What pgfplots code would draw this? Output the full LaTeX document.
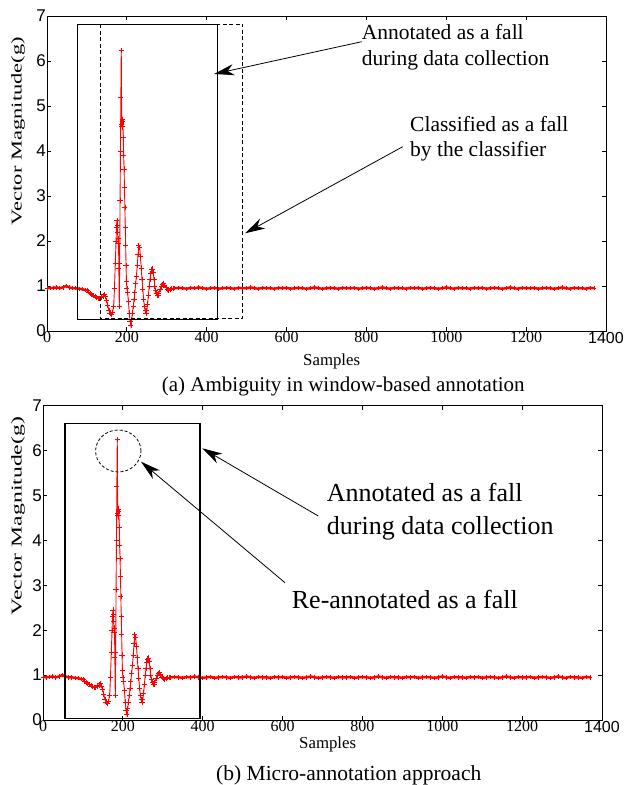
\documentclass[border=0pt]{standalone}
\usepackage{fontspec}
\setmainfont{Liberation Serif}
\newfontfamily\arialf{Liberation Sans}
\usepackage{pgfplots}
\pgfplotsset{compat=1.18}
\usepackage{pgfplotstable}
\usetikzlibrary{arrows.meta}

\definecolor{sigred}{RGB}{255,0,0}

% quiet stretch before the fall
\pgfplotstableread{
x y
0 0.96
8 0.95
16 0.96
24 0.97
32 0.95
40 0.97
48 1.00
56 0.97
64 0.95
72 0.95
80 0.94
88 0.93
96 0.91
100 0.90
}\headbase

% the fall event itself
\pgfplotstableread{
x y
100 0.90
104 0.87
108 0.84
112 0.82
116 0.79
120 0.76
124 0.74
128 0.72
132 0.72
136 0.74
140 0.78
143 0.81
146 0.76
149 0.68
152 0.58
155 0.46
158 0.40
161 0.37
164 0.42
167 0.55
169 0.95
171 1.50
173 2.00
174 2.30
175 2.45
176 2.35
177 2.20
178 1.95
179 2.05
180 1.40
181 0.55
182 1.50
183 2.90
184 4.00
185 5.20
186 6.24
187 4.60
188 4.55
189 4.70
190 4.65
191 4.30
192 3.90
193 3.60
194 3.20
195 2.75
196 2.30
197 1.90
198 1.45
199 1.10
200 0.95
202 0.85
204 0.65
206 0.40
208 0.22
210 0.12
212 0.25
214 0.40
216 0.54
218 0.70
220 0.85
222 1.05
224 1.22
226 1.45
228 1.70
230 1.90
232 1.85
234 1.65
236 1.40
238 1.15
240 0.92
242 0.70
244 0.55
246 0.45
248 0.40
250 0.45
252 0.60
254 0.80
256 1.00
258 1.15
260 1.28
262 1.36
264 1.38
266 1.30
268 1.15
270 1.00
272 0.90
274 0.84
276 0.80
278 0.80
280 0.84
283 0.92
286 1.00
289 1.04
292 1.06
295 1.02
298 0.96
301 0.92
304 0.91
308 0.93
312 0.94
316 0.95
}\event

% after the fall
\pgfplotstableread{
x y
316 0.95
320 0.95
330 0.96
340 0.95
350 0.94
360 0.96
370 0.95
380 0.97
390 0.95
400 0.94
410 0.95
420 0.96
430 0.94
440 0.95
450 0.96
460 0.95
470 0.94
480 0.96
490 0.95
500 0.95
510 0.97
520 0.95
530 0.94
540 0.96
550 0.95
560 0.95
570 0.94
580 0.96
590 0.95
600 0.96
610 0.94
620 0.95
630 0.96
640 0.95
650 0.94
660 0.95
670 0.97
680 0.95
690 0.94
700 0.95
710 0.96
720 0.95
730 0.94
740 0.96
750 0.95
760 0.95
770 0.96
780 0.94
790 0.95
800 0.96
810 0.95
820 0.94
830 0.95
840 0.97
850 0.95
860 0.94
870 0.96
880 0.95
890 0.95
900 0.94
910 0.96
920 0.95
930 0.96
940 0.94
950 0.95
960 0.96
970 0.95
980 0.94
990 0.95
1000 0.97
1010 0.95
1020 0.94
1030 0.96
1040 0.95
1050 0.95
1060 0.94
1070 0.96
1080 0.95
1090 0.96
1100 0.94
1110 0.95
1120 0.96
1130 0.95
1140 0.94
1150 0.95
1160 0.97
1170 0.95
1180 0.94
1190 0.96
1200 0.95
1210 0.95
1220 0.96
1230 0.94
1240 0.95
1250 0.96
1260 0.95
1270 0.94
1280 0.95
1290 0.97
1300 0.95
1310 0.94
1320 0.96
1330 0.95
1340 0.95
1350 0.94
1360 0.96
1370 0.95
}\tailbase

\pgfplotsset{panel/.style={
  scale only axis, width=559pt, height=315pt,
  xmin=0, xmax=1400, ymin=0, ymax=7,
  xtick={0,200,...,1400}, ytick={0,...,7},
  xticklabels={0,200,400,600,800,1000,1200,{\arialf 1400}},
  tick align=inside, major tick length=4pt,
  axis line style={line width=1pt},
  tick style={line width=0.8pt,black},
  xticklabel style={font=\fontsize{16}{16}\selectfont, inner sep=1pt},
  yticklabel style={font=\arialf\fontsize{17}{17}\selectfont, inner sep=1pt},
  /pgf/number format/assume math mode=true,
  clip=false,
}}

\tikzset{
  thickband/.style={draw=sigred, color=sigred, line width=2.4pt, mark=+, mark size=2.2pt,
    mark options={draw=sigred, solid, line width=0.6pt}},
  thinsig/.style={draw=sigred, color=sigred, line width=0.9pt, mark=+, mark size=2.6pt,
    mark options={draw=sigred, solid, line width=0.7pt}},
  callout/.style={line width=0.8pt, -{Stealth[length=20pt,width=11pt,inset=6pt]}},
}

\begin{document}
\begin{tikzpicture}
\useasboundingbox (0,0) rectangle (632pt,-785pt);

% ---------------- panel (a) ----------------
\begin{axis}[panel, at={(47pt,-331pt)}, anchor=south west]
  \addplot[thickband] table {\headbase};
  \addplot[thinsig] table {\event};
  \addplot[thickband] table {\tailbase};
\end{axis}

\node[rotate=90] at (18pt,-131pt)
  {\scalebox{1.5}[1]{\fontsize{15}{15}\selectfont Vector Magnitude(g)}};
\node[anchor=base west, inner sep=0, font=\fontsize{16.8}{16.8}\selectfont]
  at (303pt,-365pt) {Samples};
\node[anchor=base west, inner sep=0, font=\fontsize{21}{21}\selectfont]
  at (161.7pt,-391.7pt) {(a) Ambiguity in window-based annotation};

\draw[line width=0.9pt] (77.7pt,-24pt) rectangle (217pt,-319pt);
\draw[line width=0.9pt, dash pattern=on 4pt off 2.5pt] (100pt,-24pt) rectangle (242.7pt,-318.3pt);
\draw[callout] (361.7pt,-41.7pt) -- (214pt,-74pt);
\draw[callout] (402.7pt,-146.7pt) -- (245pt,-233.3pt);

\begin{scope}[every node/.style={anchor=base west, inner sep=0, font=\fontsize{21.5}{21.5}\selectfont}]
  \node at (361.7pt,-39.3pt) {Annotated as a fall};
  \node at (361.7pt,-65pt) {during data collection};
  \node at (410pt,-131pt) {Classified as a fall};
  \node at (410pt,-156.7pt) {by the classifier};
\end{scope}

% ---------------- panel (b) ----------------
\begin{axis}[panel, at={(43pt,-720pt)}, anchor=south west, height=314.3pt]
  \addplot[thickband] table {\headbase};
  \addplot[thinsig] table {\event};
  \addplot[thickband] table {\tailbase};
\end{axis}

\node[rotate=90] at (18pt,-516pt)
  {\scalebox{1.58}[1]{\fontsize{15}{15}\selectfont Vector Magnitude(g)}};
\node[anchor=base west, inner sep=0, font=\fontsize{16.8}{16.8}\selectfont]
  at (299pt,-748pt) {Samples};
\node[anchor=base west, inner sep=0, font=\fontsize{21.5}{21.5}\selectfont]
  at (216pt,-780pt) {(b) Micro-annotation approach};

\draw[line width=1.5pt] (65pt,-423.3pt) rectangle (200pt,-718.3pt);
\draw[line width=0.8pt, dash pattern=on 3pt off 2pt] (118.3pt,-451pt) ellipse [x radius=22.7pt, y radius=21pt];
\draw[callout] (318.3pt,-516pt) -- (202.3pt,-448.3pt);
\draw[callout] (285pt,-582.7pt) -- (141pt,-461.7pt);

\begin{scope}[every node/.style={anchor=base west, inner sep=0, font=\fontsize{26}{26}\selectfont}]
  \node at (326.7pt,-501.7pt) {Annotated as a fall};
  \node at (326.7pt,-534pt) {during data collection};
  \node at (291.7pt,-608pt) {Re-annotated as a fall};
\end{scope}
\end{tikzpicture}
\end{document}
